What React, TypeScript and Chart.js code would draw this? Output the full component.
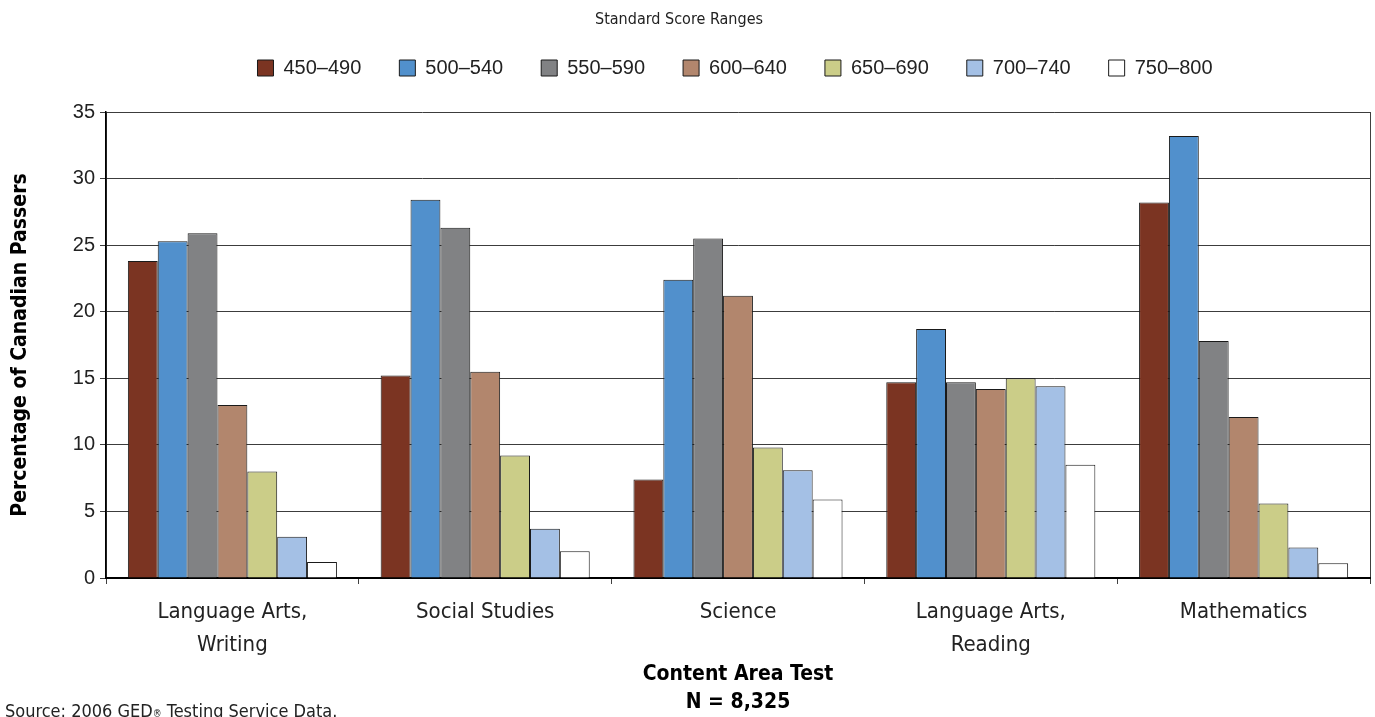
import React, { useEffect, useRef } from 'react';
import { Chart, registerables } from 'chart.js';

Chart.register(...registerables);

// ---- Data ----
const categories: (string | string[])[] = [
  ['Language Arts,', 'Writing'],
  'Social Studies',
  'Science',
  ['Language Arts,', 'Reading'],
  'Mathematics',
];

const seriesLabels = ['450–490', '500–540', '550–590', '600–640', '650–690', '700–740', '750–800'];

const range450 = [23.8, 15.2, 7.4, 14.7, 28.2];
const range500 = [25.3, 28.4, 22.4, 18.7, 33.2];
const range550 = [25.9, 26.3, 25.5, 14.7, 17.8];
const range600 = [13.0, 15.5, 21.2, 14.2, 12.1];
const range650 = [8.0, 9.2, 9.8, 15.0, 5.6];
const range700 = [3.1, 3.7, 8.1, 14.4, 2.3];
const range750 = [1.2, 2.0, 5.9, 8.5, 1.1];

const seriesValues = [range450, range500, range550, range600, range650, range700, range750];

const seriesColors = ['#7b3422', '#5190cc', '#818284', '#b2866d', '#cbcd88', '#a4c0e5', '#ffffff'];

const yMin = 0;
const yMax = 35;
const yStep = 5;

const chartTitle = 'Standard Score Ranges';
const yTitle = 'Percentage of Canadian Passers';
const xTitle = ['Content Area Test', 'N = 8,325'];

// ---- Styles ----
const NARROW = "'Liberation Sans Narrow', 'Arial Narrow', 'DejaVu Sans Condensed', sans-serif";
const SANS = "'Liberation Sans', Arial, sans-serif";

const W = 1375;
const H = 717;

const legendTweak = {
  id: 'legendTweak',
  beforeInit(chart: any) {
    const legend = chart.legend;
    if (legend) {
      const origFit = legend.fit;
      legend.fit = function () {
        origFit.call(this);
        this.height = 112 - 40;
      };
    }
  },
  afterLayout(chart: any) {
    if (chart.legend) {
      chart.legend.left += 100;
      chart.legend.top = 20;
    }
    if (chart.titleBlock) {
      chart.titleBlock.left -= 12;
    }
  },
};

export default function App() {
  const ref = useRef<HTMLCanvasElement>(null);

  useEffect(() => {
    if (!ref.current) return;
    const chart = new Chart(ref.current, {
      type: 'bar',
      data: {
        labels: categories,
        datasets: seriesLabels.map((label, i) => ({
          label,
          data: seriesValues[i],
          backgroundColor: seriesColors[i],
          borderColor: '#1a1a1a',
          borderWidth: 1,
          categoryPercentage: 0.827,
          barPercentage: 1,
        })),
      },
      options: {
        responsive: false,
        animation: false,
        layout: { padding: { left: 0, right: 5, top: 0, bottom: 0 } },
        plugins: {
          title: {
            display: true,
            text: chartTitle,
            color: '#222',
            font: { family: NARROW, size: 16, weight: 'normal', lineHeight: 1.25 },
            padding: { top: 10, bottom: 10 },
          },
          legend: {
            display: true,
            position: 'top',
            labels: {
              boxWidth: 16,
              boxHeight: 16,
              padding: 38,
              color: '#222',
              font: { family: SANS, size: 20 },
            },
          },
          tooltip: { enabled: false },
        },
        scales: {
          x: {
            offset: true,
            afterFit: (scale: any) => {
              scale.height = 139;
            },
            grid: {
              offset: true,
              drawOnChartArea: true,
              drawTicks: true,
              tickLength: 6,
              tickColor: '#404040',
              color: (ctx: any) => (ctx.type === 'tick' && ctx.index > 0 ? 'rgba(0,0,0,0)' : '#404040'),
            },
            border: { display: true, color: '#000', width: 2 },
            ticks: {
              color: '#222',
              padding: 12,
              maxRotation: 0,
              autoSkip: false,
              font: { family: NARROW, size: 22, lineHeight: 1.5 },
            },
            title: {
              display: true,
              text: xTitle,
              color: '#000',
              font: { family: NARROW, size: 21, weight: 'bold', lineHeight: 28 / 21 },
              padding: { top: 0, bottom: 0 },
            },
          },
          y: {
            min: yMin,
            max: yMax,
            afterFit: (scale: any) => {
              scale.width = 106;
            },
            grid: {
              color: '#3c3c3c',
              lineWidth: 1,
              tickLength: 6,
              tickColor: '#3c3c3c',
            },
            border: { display: true, color: '#000', width: 1.5 },
            ticks: {
              stepSize: yStep,
              color: '#222',
              padding: 5,
              font: { family: SANS, size: 20 },
            },
            title: {
              display: true,
              text: yTitle,
              color: '#000',
              font: { family: NARROW, size: 21, weight: 'bold', lineHeight: 1.2 },
              padding: { top: 8, bottom: 0 },
            },
          },
        },
      },
      plugins: [legendTweak],
    });
    return () => chart.destroy();
  }, []);

  return (
    <div
      style={{
        position: 'absolute',
        left: 0,
        top: 0,
        width: W,
        height: H,
        overflow: 'hidden',
        background: '#fff',
      }}
    >
      <canvas ref={ref} width={W} height={H} style={{ width: W, height: H, display: 'block' }} />
      <div
        style={{
          position: 'absolute',
          left: 5,
          top: 701,
          fontFamily: NARROW,
          fontSize: 18,
          lineHeight: '20px',
          color: '#222',
          whiteSpace: 'nowrap',
        }}
      >
        Source: 2006 GED<span style={{ fontSize: '0.55em' }}>®</span> Testing Service Data.
      </div>
    </div>
  );
}
